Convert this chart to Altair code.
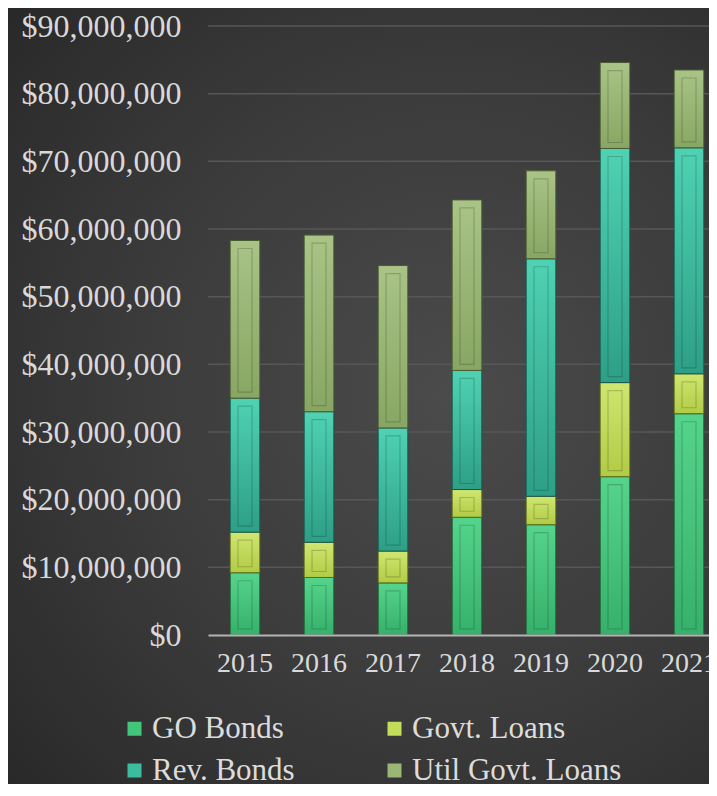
import altair as alt
import pandas as pd

years = ["2015", "2016", "2017", "2018", "2019", "2020", "2021"]
categories = ["GO Bonds", "Govt. Loans", "Rev. Bonds", "Util Govt. Loans"]
go_bonds = [9200000, 8500000, 7700000, 17400000, 16300000, 23400000, 32700000]
govt_loans = [6000000, 5200000, 4700000, 4100000, 4200000, 13900000, 5900000]
rev_bonds = [19800000, 19300000, 18200000, 17600000, 35100000, 34600000, 33400000]
util_loans = [23300000, 26100000, 24000000, 25200000, 13000000, 12700000, 11500000]
y_ticks = [10000000, 20000000, 30000000, 40000000, 50000000, 60000000, 70000000, 80000000, 90000000]

base_colors = ["#43c67a", "#c3dc5a", "#3bbc9f", "#9bb775"]
grad_top = ["#55d48c", "#d0e670", "#4fd2b3", "#a9c486"]
grad_bot = ["#36b06a", "#b1cb45", "#2d9f86", "#88a663"]
edge_colors = ["#1d5a34", "#5d6a1e", "#16574a", "#485a30"]

series = [go_bonds, govt_loans, rev_bonds, util_loans]
rows = []
for ci, (cat, vals) in enumerate(zip(categories, series)):
    for y, v in zip(years, vals):
        rows.append({"year": y, "category": cat, "value": v, "order": ci})
df = pd.DataFrame(rows)
ticks_df = pd.DataFrame({"tick": y_ticks})
bg_df = pd.DataFrame({"a": [0]})

FONT = "Liberation Serif"
W, H = 501, 609
PB = 149

x_scale = alt.Scale(range=[0, 518], paddingInner=0.6, paddingOuter=0.3)
y_scale = alt.Scale(domain=[0, 90000000], nice=False)
x_axis = alt.Axis(title=None, labelFont=FONT, labelFontSize=28, labelColor="#d9d9d9",
                  labelPadding=14, ticks=False, domain=True, domainColor="#b4b4b4",
                  domainWidth=2, grid=False, labelAngle=0, zindex=1)
y_axis = alt.Axis(title=None, labelFont=FONT, labelFontSize=32, labelColor="#d9d9d9",
                  labelPadding=27, ticks=False, domain=False, grid=False,
                  values=[0] + y_ticks, format="$,.0f", zindex=1)

bg = alt.Chart(bg_df).mark_rect(
    fill=alt.RadialGradient(
        gradient="radial", x1=0.62, y1=0.5, r1=0.0, x2=0.62, y2=0.5, r2=0.78,
        stops=[alt.GradientStop(color="#4b4b4b", offset=0),
               alt.GradientStop(color="#3a3a3a", offset=0.55),
               alt.GradientStop(color="#282828", offset=1)]),
).encode(x=alt.value(-200), x2=alt.value(W), y=alt.value(-18), y2=alt.value(H + PB))

grid = alt.Chart(ticks_df).mark_rule(color="#575757", strokeWidth=1.5).encode(
    y=alt.Y("tick:Q", scale=y_scale, axis=y_axis)
)

base = alt.Chart(df).transform_stack(
    stack="value", as_=["v0", "v1"], groupby=["year"],
    sort=[alt.SortField("order", order="ascending")]
)
xenc = alt.X("year:N", scale=x_scale, axis=x_axis, sort=years)
yenc = alt.Y("v1:Q", scale=y_scale, axis=y_axis)

solid = base.mark_bar(strokeWidth=0).encode(
    x=xenc, y=yenc, y2="v0:Q",
    color=alt.Color("category:N", scale=alt.Scale(domain=categories, range=base_colors),
                    legend=alt.Legend(title=None, orient="none", legendX=-89, legendY=687,
                                      direction="horizontal", padding=0,
                                      columns=2, columnPadding=84, rowPadding=10,
                                      symbolType="square", symbolSize=196,
                                      symbolStrokeWidth=0, labelFont=FONT,
                                      labelFontSize=31, labelColor="#dcdcdc",
                                      labelOffset=2, labelLimit=400)),
)

layers = [bg, grid, solid]
for ci, cat in enumerate(categories):
    grad = alt.LinearGradient(
        gradient="linear", x1=0, y1=0, x2=0, y2=1,
        stops=[alt.GradientStop(color=grad_top[ci], offset=0),
               alt.GradientStop(color=grad_bot[ci], offset=1)])
    layers.append(
        base.transform_filter(alt.datum.category == cat).mark_bar(
            fill=grad, stroke=edge_colors[ci], strokeWidth=1
        ).encode(x=xenc, y=yenc, y2="v0:Q")
    )
    layers.append(
        base.transform_filter(alt.datum.category == cat).mark_bar(
            size=14, yOffset=8, y2Offset=-6, fillOpacity=0,
            stroke="#000000", strokeOpacity=0.18, strokeWidth=1.2
        ).encode(x=xenc, y=yenc, y2="v0:Q")
    )

chart = alt.layer(*layers).properties(
    width=W, height=H,
    padding={"left": 200, "top": 18, "right": 0, "bottom": PB},
    autosize=alt.AutoSizeParams(type="none"),
    background="#333333",
).configure_view(stroke=None)

chart.save("out.html", embed_options={"renderer": "svg", "actions": False})
